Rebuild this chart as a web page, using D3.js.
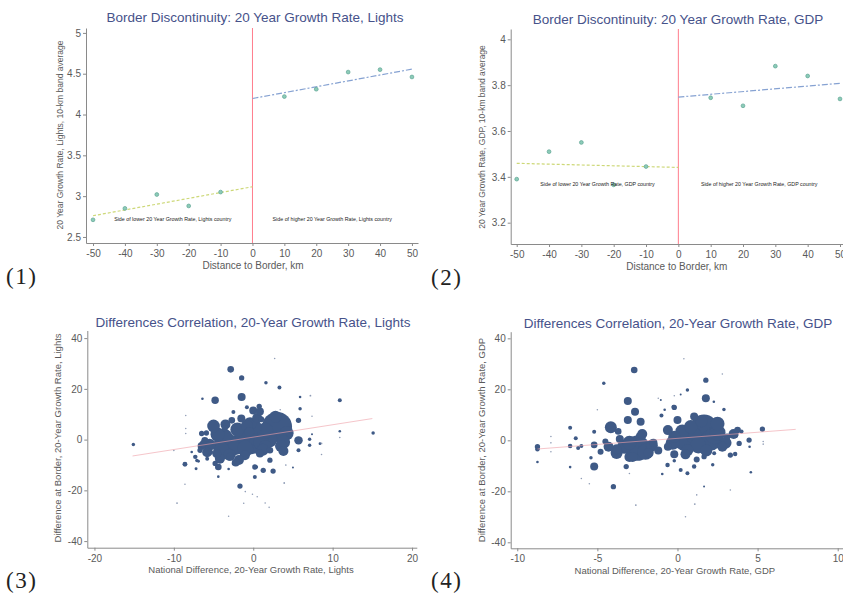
<!DOCTYPE html>
<html><head><meta charset="utf-8">
<script src="https://cdn.jsdelivr.net/npm/d3@7"></script>
<style>
body{margin:0;background:#fff}
svg{display:block}
</style>
</head><body><script>
// ---------- DATA ----------
const distTicks = [-50,-40,-30,-20,-10,0,10,20,30,40,50];
const distLower = [-50,-40,-30,-20,-10];
const distUpper = [10,20,30,40,50];
const lightsLower = [2.71,2.85,3.02,2.88,3.05];
const lightsUpper = [4.22,4.31,4.52,4.55,4.46];
const gdpLower = [3.39,3.51,3.55,3.365,3.445];
const gdpUpper = [3.745,3.71,3.883,3.84,3.74];
const fitLowerX = [-50,0];
const fitUpperX = [0,50];
const lightsFitLower = [2.76,3.115];
const lightsFitUpper = [4.196,4.556];
const gdpFitLower = [3.459,3.441];
const gdpFitUpper = [3.748,3.808];
const lightsYTicks = [2.5,3,3.5,4,4.5,5];
const gdpYTicks = [3.2,3.4,3.6,3.8,4];
const diffYTicks = [-40,-20,0,20,40];
const lightsDiffXTicks = [-20,-10,0,10,20];
const gdpDiffXTicks = [-10,-5,0,5,10];

// Panel 3: national difference (x), difference at border (y), weight
const lightsNat = [3.0,-3.4,-0.2,-2.3,-3.6,0.2,-1.3,-4.0,-1.05,-5.0,-0.4,3.8,2.0,1.5,-6.1,-6.7,-7.3,-4.8,-1.5,-2.7,0.0,0.84,-5.9,5.7,2.1,0.84,1.26,0.2,2.1,5.7,5.7,-4.4,-2.9,-5.4,-4.6,-6.3,-6.5,-2.5,-0.8,0.75,-4.8,-1.46,-2.84,-1.46,1.6,3.3,10.9,5.9,5.9,15.1,10.9,-15.1,7.1,7.1,8.4,7.4,-8.6,-1.67,2.5,0.2,-7.75,-7.1,-2.5,-3.1,0.4,-4.4,-6.4,5.0,4.1,-7.2,-6.9,-5.8,-3.6,-0.5,1.0,4.5,2.7,-9.6,-3.1,-8.6,1.5,2.0,-0.1,0.5,-1.2,-8.5,-8.5,-8.5,-10,3.9,3.4,7.2,7.4,8.6,8.6,10.9,-1.0,
  -5.5,-4.5,-2.0,-1.0,1.0,1.5,-3.0,-5.8,4.2,3.5,-6.5,0.5,-3.5,-1.8,2.8,-0.8,1.2,-4.2,-2.2,3.8];
const lightsBorder = [5.0,-2.6,-1.0,-2.2,1.0,5.0,1.5,-4.2,-6.2,5.4,6.3,-0.9,0.0,-2.5,-0.3,-4.2,-6.8,-9.4,8.3,7.6,11.5,11.1,2.6,-0.3,-4.2,-5.5,-12.1,-10.8,-8.1,7.6,-4.2,-10.8,-6.8,-4.9,-5.5,-1.6,2.4,10.9,12.8,13.1,15.5,16.8,27.7,24.3,22.4,20.5,15.5,12.2,16.8,2.6,3.3,-1.9,0.1,-2.2,-1.6,2.1,-9.7,-18.3,-12.4,-14.7,-4.9,-8.2,-9.5,-11.6,-10.8,-14.6,16.1,-11,-10,-11.5,-8.5,-7.5,4.5,3.0,8.0,2.5,32,-25,-30.2,-17.6,-25,-26.7,-21.5,-22.5,-25.1,9.5,4.4,2.4,-4.3,-17.1,11.8,17.3,9.2,-1.5,-5.9,0.8,-20.5,
  -2.0,2.0,4.0,-3.5,-1.0,3.5,-6.0,-5.0,2.5,-2.5,-2.5,8.5,6.0,-8.0,9.0,5.5,-4.0,-7.5,-9.0,-4.5];
const lightsWeight = [225,169,144,100,64,49,64,64,25,40,42,45,64,36,12,7,5,7,16,11,16,16,7,18,11,16,7,7,7,7,4,11,16,7,20,12,7,4,4,7,14,16,11,7,3,4,4,3,1.7,3,1.7,3,3,3,1.7,1,6,7,7,4,1.7,3,3,1.7,3,1.7,1.7,1,0.7,2.2,2.2,4,9,25,9,9,0.6,0.8,0.6,0.6,0.6,0.6,0.6,0.6,0.6,0.6,0.6,0.6,0.6,0.8,0.6,0.8,0.6,0.8,0.6,0.6,0.6,
  36,49,49,64,64,64,36,25,49,36,16,25,25,25,36,36,36,25,16,25];
const lightsFitX = [-15.2,15.0];
const lightsFitY = [-6.45,8.3];

// Panel 4
const gdpNat = [-2.5,-3.33,-2.3,-4.16,-3.1,-2.3,-2.65,-3.1,-2.7,-4.6,-3.7,-5.2,-5.2,-4.0,-3.2,-8.74,-8.74,-6.7,-6.7,-6.35,-6.0,-6.2,-6.7,-8.74,-5.2,-5.4,-1.04,-0.8,-0.25,-1.0,-3.8,-1.8,-3.0,-1.5,-4.5,-4.8,-3.6,1.66,0.41,2.08,0.83,-0.2,-0.6,0.62,0,1.04,1.77,1.77,0.62,0.2,2.27,2.9,-0.2,3.1,3.75,3.85,3.3,3.6,4.0,4.47,5.3,4.5,4.58,2.29,1.66,1.04,0.62,0.2,-0.62,-0.2,1.66,1.08,1.2,0.5,-2.6,2.2,-0.95,3.3,5.35,5.35,-7.9,-7.9,-7.9,0.4,2.8,-0.2,1.0,2.5,2.8,-0.2,1.2,3.6,-6.0,-5.5,-3.0,-5.0,-1.2,
  -2.0,-3.0,-3.8,-2.2,-1.6,-4.3,1.3,2.3,0.3,-0.3,3.0,1.5,2.5,0.5,3.5,-0.6,1.8,-2.8,-1.2];
const gdpBorder = [-3.1,-2.5,1.4,5.1,8,7.3,11.2,15.4,27.6,22.4,3.5,-10.3,-1.8,-18.2,-10.3,-2.5,-3.5,4.9,-2.2,0.8,-2.2,-3.0,-10.5,-8.5,3.4,-6.8,15.8,12,13.2,9.7,-3.5,-5,-6.5,-1,-0.5,-4.5,0.5,4.7,0.1,0.1,5.3,1.4,-2.5,-3.8,8,9.3,16.5,23.6,19.7,18,15.1,12.1,12.9,1.4,4.0,-1.2,-5.8,-5.4,3.5,0.1,4.4,-2.5,-12.5,-5.1,-6.4,-10.3,-12.9,-11.6,-9.7,-8,-18.1,-25,-21.4,-30,-25.4,-9.6,-13.2,-19.5,-1.5,-0.5,1.5,-1.0,-4.5,32,26,17.5,2.0,3.0,-2.5,-5.5,-7.5,2.0,-15,-17,-13,12,16.5,
  -4.5,-1.0,-5.0,2.5,-2.0,-2.5,-2.0,2.0,3.5,-1.0,-1.0,7.5,6.5,-5.5,2.5,4.0,-4.0,-6.5,-4.0];
const gdpWeight = [160,49,25,36,16,16,16,16,11,3,11,16,11,7,7,7,5,4,5,4,4,4,1.7,1.7,4,3,1,1.7,4,4,25,25,25,16,9,9,16,190,110,110,45,36,16,36,16,16,16,7,3,1,1.7,3,7,11,11,7,7,5,4,7,7,1.7,1.7,4,7,5,4,4,5,3,1,0.8,0.6,0.6,0.8,3,1.7,0.6,0.6,0.6,0.6,0.6,0.6,0.6,0.6,0.6,64,64,25,16,9,9,0.6,0.6,0.6,0.6,0.6,
  64,49,36,25,36,25,64,81,49,49,36,36,49,25,25,25,36,25,16];
const gdpFitX = [-8.74,7.38];
const gdpFitY = [-3.4,4.3];

// ---------- DRAWING ----------
const svg = d3.select("body").append("svg").attr("width",843).attr("height",596);
const AX = "#8a8a8a", TXT = "#5a5a5a", TITLE = "#46528a";
const SANS = "'Liberation Sans', Arial, sans-serif";

function frame(o){
  const g = svg.append("g").style("font-family",SANS);
  const x = d3.scaleLinear().domain(o.xd).range(o.xr);
  const y = d3.scaleLinear().domain(o.yd).range(o.yr);
  const xa = g.append("g").attr("transform",`translate(0,${o.yr[0]})`)
    .call(d3.axisBottom(x).tickValues(o.xt).tickFormat(d=>String(d)).tickSize(3).tickSizeOuter(0).tickPadding(4));
  const ya = g.append("g").attr("transform",`translate(${o.xr[0]},0)`)
    .call(d3.axisLeft(y).tickValues(o.yt).tickFormat(d=>String(d)).tickSize(3).tickSizeOuter(0).tickPadding(2));
  [xa,ya].forEach(a=>{
    a.attr("font-family",null);
    a.select(".domain").attr("stroke",AX);
    a.selectAll(".tick line").attr("stroke",AX);
    a.selectAll(".tick text").attr("fill",TXT).attr("font-size",o.tickFs||10);
  });
  g.append("text").attr("x",o.titleX).attr("y",o.titleY).attr("text-anchor","middle")
    .attr("fill",TITLE).attr("font-size",13.5).text(o.title);
  g.append("text").attr("x",(o.xr[0]+Math.min(o.xr[1],843))/2 + (o.xlabDx||0)).attr("y",o.xlabY).attr("text-anchor","middle")
    .attr("fill",TXT).attr("font-size",o.xlabFs).text(o.xlab);
  g.append("text").attr("transform",`translate(${o.ylabX},${o.ylabCY}) rotate(-90)`).attr("text-anchor","middle")
    .attr("fill",TXT).attr("font-size",o.ylabFs).text(o.ylab);
  svg.append("text").attr("x",o.numX).attr("y",o.numY).style("font-family","'Liberation Serif', 'DejaVu Serif', serif")
    .attr("font-size",23).attr("letter-spacing",1.5).attr("fill","#222").text(o.num);
  return {g,x,y};
}

function discPanel(o, lower, upper, fitL, fitU){
  const {g,x,y} = frame(o);
  g.append("line").attr("x1",x(0)).attr("x2",x(0)).attr("y1",o.yr[0]).attr("y2",o.yr[1])
    .attr("stroke","#ff7d8c").attr("stroke-width",1);
  const line = d3.line().x(d=>x(d[0])).y(d=>y(d[1]));
  g.append("path").attr("d",line(fitLowerX.map((v,i)=>[v,fitL[i]]))).attr("fill","none")
    .attr("stroke","#cdd878").attr("stroke-width",1.2).attr("stroke-dasharray","3,2");
  g.append("path").attr("d",line(fitUpperX.map((v,i)=>[v,fitU[i]]))).attr("fill","none")
    .attr("stroke","#86a2d2").attr("stroke-width",1.2).attr("stroke-dasharray","6,2,2,2");
  const pts = distLower.map((v,i)=>[v,lower[i]]).concat(distUpper.map((v,i)=>[v,upper[i]]));
  g.selectAll("circle.pt").data(pts).join("circle").attr("class","pt")
    .attr("cx",d=>x(d[0])).attr("cy",d=>y(d[1])).attr("r",1.9)
    .attr("fill","#8ccbb8").attr("stroke","#5fa593").attr("stroke-width",0.7);
  o.notes.forEach(n=>{
    g.append("text").attr("x",x(n[0])).attr("y",y(n[1])).attr("dy","0.35em").attr("text-anchor","middle")
      .attr("font-size",5.3).attr("fill","#222").text(n[2]);
  });
}

function bubblePanel(o, xs, ys, ws, fx, fy){
  const {g,x,y} = frame(o);
  const r = d3.scaleSqrt().domain([0,225]).range([0,15]);
  const data = xs.map((v,i)=>({x:v,y:ys[i],w:ws[i]})).sort((a,b)=>b.w-a.w);
  g.selectAll("circle.b").data(data).join("circle").attr("class","b")
    .attr("cx",d=>x(d.x)).attr("cy",d=>y(d.y)).attr("r",d=>r(d.w))
    .attr("fill",d=>d.w<1?"#8f9cb5":"#3f5a86");
  g.append("line").attr("x1",x(fx[0])).attr("y1",y(fy[0])).attr("x2",x(fx[1])).attr("y2",y(fy[1]))
    .attr("stroke","#f0a0a8").attr("stroke-width",1).attr("opacity",0.6);
}

discPanel({xd:[-52.2,51.9],xr:[86,418],yd:[2.426,5.06],yr:[243,28],xt:distTicks,yt:lightsYTicks,
  title:"Border Discontinuity: 20 Year Growth Rate, Lights",titleX:255,titleY:22,
  xlab:"Distance to Border, km",xlabY:269,xlabFs:10,xlabDx:1,
  ylab:"20 Year Growth Rate, Lights, 10-km band average",ylabX:63,ylabCY:135,ylabFs:8.5,
  num:"(1)",numX:6,numY:284,tickFs:10,
  notes:[[-25,2.72,"Side of lower 20 Year Growth Rate, Lights country"],[25,2.72,"Side of higher 20 Year Growth Rate, Lights country"]]},
  lightsLower, lightsUpper, lightsFitLower, lightsFitUpper);

discPanel({xd:[-51.86,51.86],xr:[510.7,846],yd:[3.107,4.045],yr:[244,29],xt:distTicks,yt:gdpYTicks,
  title:"Border Discontinuity: 20 Year Growth Rate, GDP",titleX:678,titleY:24,
  xlab:"Distance to Border, km",xlabY:270,xlabFs:10,xlabDx:0,
  ylab:"20 Year Growth Rate, GDP, 10-km band average",ylabX:485,ylabCY:137,ylabFs:8.5,
  num:"(2)",numX:431,numY:285,tickFs:10,
  notes:[[-25,3.37,"Side of lower 20 Year Growth Rate, GDP country"],[25,3.37,"Side of higher 20 Year Growth Rate, GDP country"]]},
  gdpLower, gdpUpper, gdpFitLower, gdpFitUpper);

bubblePanel({xd:[-20.9,20.6],xr:[87.3,416.8],yd:[-42.6,43],yr:[547.7,330.5],xt:lightsDiffXTicks,yt:diffYTicks,
  title:"Differences Correlation, 20-Year Growth Rate, Lights",titleX:253,titleY:327,
  xlab:"National Difference, 20-Year Growth Rate, Lights",xlabY:573,xlabFs:9.5,xlabDx:-1,
  ylab:"Difference at Border, 20-Year Growth Rate, Lights",ylabX:61,ylabCY:438,ylabFs:9.5,
  num:"(3)",numX:6,numY:588,tickFs:10},
  lightsNat, lightsBorder, lightsWeight, lightsFitX, lightsFitY);

bubblePanel({xd:[-10.41,10.5],xr:[510.7,845.7],yd:[-42.35,42.6],yr:[548.3,331.7],xt:gdpDiffXTicks,yt:diffYTicks,
  title:"Differences Correlation, 20-Year Growth Rate, GDP",titleX:678,titleY:328,
  xlab:"National Difference, 20-Year Growth Rate, GDP",xlabY:574,xlabFs:9.5,xlabDx:-2,
  ylab:"Difference at Border, 20-Year Growth Rate, GDP",ylabX:485,ylabCY:440,ylabFs:9.5,
  num:"(4)",numX:431,numY:588,tickFs:10},
  gdpNat, gdpBorder, gdpWeight, gdpFitX, gdpFitY);
</script></body></html>
